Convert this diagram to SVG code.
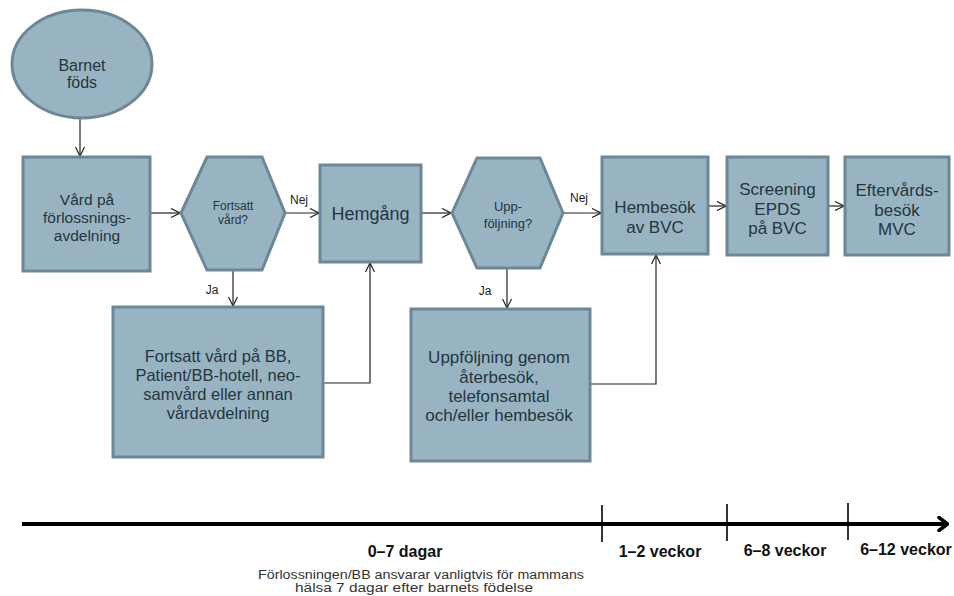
<svg xmlns="http://www.w3.org/2000/svg" width="954" height="596" viewBox="0 0 954 596">
<defs>
<marker id="arr" viewBox="0 0 10 10" refX="10" refY="5" markerWidth="10" markerHeight="10" markerUnits="userSpaceOnUse" orient="auto">
<path d="M1,0.5 L10,5 L1,9.5" fill="none" stroke="#222" stroke-width="1.2"/>
</marker>
<marker id="bigarr" viewBox="0 0 12 16" refX="11" refY="8" markerWidth="12" markerHeight="16" markerUnits="userSpaceOnUse" orient="auto">
<path d="M2,1.5 L10.5,8 L2,14.5" fill="none" stroke="#000" stroke-width="3.5" stroke-linecap="round" stroke-linejoin="round"/>
</marker>
</defs>
<style>
.n{fill:#98b4c3;stroke:#6d8796;stroke-width:3}
.t{font-family:"Liberation Sans",Arial,sans-serif;fill:#26343c;text-anchor:middle}
.c{fill:none;stroke:#222;stroke-width:1.2}
.l{font-family:"Liberation Sans",Arial,sans-serif;fill:#222;font-size:12px;text-anchor:middle}
.tl{font-family:"Liberation Sans",Arial,sans-serif;fill:#111;text-anchor:middle;font-weight:bold;font-size:16px}
.fn{font-family:"Liberation Sans",Arial,sans-serif;fill:#333;text-anchor:middle;font-size:12px}
</style>
<rect width="954" height="596" fill="#fff"/>

<g id="connectors">
<line class="c" x1="80" y1="119" x2="80" y2="156" marker-end="url(#arr)"/>
<line class="c" x1="151" y1="213" x2="180" y2="213" marker-end="url(#arr)"/>
<line class="c" x1="286" y1="213" x2="319" y2="213" marker-end="url(#arr)"/>
<line class="c" x1="233" y1="271" x2="233" y2="306" marker-end="url(#arr)"/>
<polyline class="c" points="324,383 370,383 370,263" marker-end="url(#arr)"/>
<line class="c" x1="422" y1="213" x2="451" y2="213" marker-end="url(#arr)"/>
<line class="c" x1="564" y1="213" x2="601" y2="213" marker-end="url(#arr)"/>
<line class="c" x1="507" y1="269" x2="507" y2="308" marker-end="url(#arr)"/>
<polyline class="c" points="591,384 656,384 656,255" marker-end="url(#arr)"/>
<line class="c" x1="709" y1="206" x2="726" y2="206" marker-end="url(#arr)"/>
<line class="c" x1="829" y1="206" x2="844" y2="206" marker-end="url(#arr)"/>
<text class="l" x="299" y="204">Nej</text>
<text class="l" x="579" y="202">Nej</text>
<text class="l" x="212" y="294">Ja</text>
<text class="l" x="485" y="295">Ja</text>
</g>

<g id="barnet-fods">
<ellipse class="n" cx="82" cy="64" rx="70" ry="54"/>
<text class="t" font-size="16" x="82" y="71">Barnet</text>
<text class="t" font-size="16" x="82" y="88">föds</text>
</g>

<g id="vard-forlossning">
<rect class="n" x="23" y="157" width="127" height="114"/>
<text class="t" font-size="15.5" x="87" y="205">Vård på</text>
<text class="t" font-size="15.5" x="87" y="223">förlossnings-</text>
<text class="t" font-size="15.5" x="87" y="241">avdelning</text>
</g>

<g id="fortsatt-vard">
<polygon class="n" points="181,213 207,157 262,157 285,213 262,270 207,270"/>
<text class="t" font-size="12" x="233" y="210">Fortsatt</text>
<text class="t" font-size="12" x="233" y="224">vård?</text>
</g>

<g id="hemgang">
<rect class="n" x="320" y="165" width="101" height="97"/>
<text class="t" font-size="18" x="370.5" y="220">Hemgång</text>
</g>

<g id="uppfoljning-q">
<polygon class="n" points="452,213 477,158 540,158 563,213 540,268 477,268"/>
<text class="t" font-size="13" x="508" y="211">Upp-</text>
<text class="t" font-size="13" x="508" y="228">följning?</text>
</g>

<g id="hembesok">
<rect class="n" x="602" y="157" width="106" height="97"/>
<text class="t" font-size="17" x="655" y="213">Hembesök</text>
<text class="t" font-size="17" x="655" y="233">av BVC</text>
</g>

<g id="screening">
<rect class="n" x="727" y="157" width="101" height="98"/>
<text class="t" font-size="17" x="777.5" y="195">Screening</text>
<text class="t" font-size="17" x="777.5" y="215">EPDS</text>
<text class="t" font-size="17" x="777.5" y="234">på BVC</text>
</g>

<g id="eftervard">
<rect class="n" x="845" y="157" width="104" height="98"/>
<text class="t" font-size="17" x="897" y="196">Eftervårds-</text>
<text class="t" font-size="17" x="897" y="216">besök</text>
<text class="t" font-size="17" x="897" y="235">MVC</text>
</g>

<g id="fortsatt-bb">
<rect class="n" x="113" y="307" width="210" height="150"/>
<text class="t" font-size="16.5" x="218" y="362">Fortsatt vård på BB,</text>
<text class="t" font-size="16.5" x="218" y="381">Patient/BB-hotell, neo-</text>
<text class="t" font-size="16.5" x="218" y="400">samvård eller annan</text>
<text class="t" font-size="16.5" x="218" y="419">vårdavdelning</text>
</g>

<g id="uppfoljning-genom">
<rect class="n" x="411" y="309" width="179" height="152"/>
<text class="t" font-size="17" x="499" y="363">Uppföljning genom</text>
<text class="t" font-size="17" x="499" y="383">återbesök,</text>
<text class="t" font-size="17" x="499" y="402">telefonsamtal</text>
<text class="t" font-size="17" x="499" y="421">och/eller hembesök</text>
</g>

<g id="timeline">
<line x1="22" y1="524" x2="948" y2="524" stroke="#000" stroke-width="4" marker-end="url(#bigarr)"/>
<line x1="602" y1="505" x2="602" y2="542" stroke="#000" stroke-width="1.6"/>
<line x1="727" y1="504" x2="727" y2="541" stroke="#000" stroke-width="1.6"/>
<line x1="848" y1="503" x2="848" y2="540" stroke="#000" stroke-width="1.6"/>
<text class="tl" x="405" y="557">0–7 dagar</text>
<text class="tl" x="660" y="557">1–2 veckor</text>
<text class="tl" x="785" y="556">6–8 veckor</text>
<text class="tl" x="906" y="555">6–12 veckor</text>
<text class="fn" x="421" y="579" textLength="326" lengthAdjust="spacingAndGlyphs">Förlossningen/BB ansvarar vanligtvis för mammans</text>
<text class="fn" x="414" y="592" textLength="238" lengthAdjust="spacingAndGlyphs">hälsa 7 dagar efter barnets födelse</text>
</g>
</svg>
